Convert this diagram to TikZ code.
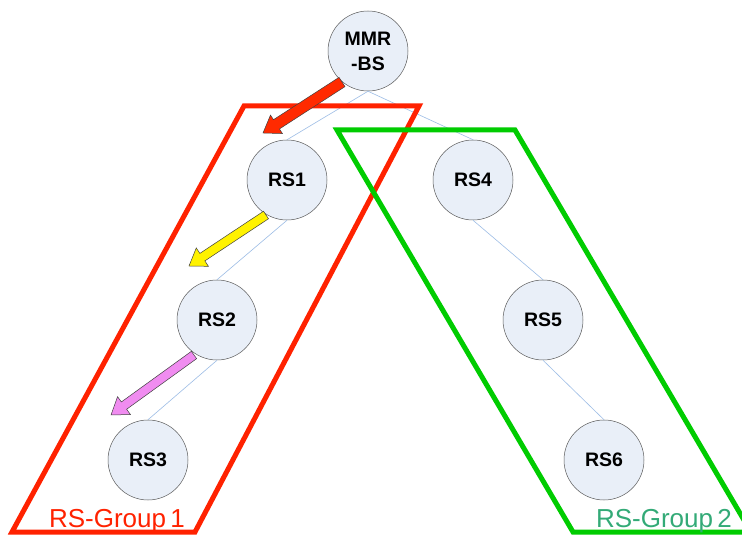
\documentclass[tikz,border=0pt]{standalone}
\usepackage{fontspec}
\setmainfont{Liberation Sans}
\usetikzlibrary{calc}
\definecolor{nodefill}{HTML}{E9EFF8}
\definecolor{linkblue}{HTML}{9DBDE6}
\definecolor{grpred}{HTML}{FF2200}
\definecolor{grpgreen}{HTML}{00CC00}
\definecolor{lblgreen}{HTML}{33AA77}
\definecolor{arrred}{HTML}{FF2A00}
\definecolor{arryellow}{HTML}{FFF200}
\definecolor{arrpink}{HTML}{F08CF0}
\tikzset{
  rsnode/.style={circle, minimum size=80pt, inner sep=0pt, fill=nodefill, draw=black!65, line width=0.5pt, font=\bfseries\fontsize{19.5}{25}\selectfont, align=center},
  link/.style={draw=linkblue, line width=0.6pt},
  grpline/.style={line width=5pt, line join=miter},
  grplabel/.style={font=\fontsize{26}{28}\selectfont, inner sep=0pt, anchor=base}
}
\newcommand{\blockarrow}[4]{%
  \path let \p1=(#2), \p2=(#3), \n1={atan2(\y2-\y1,\x2-\x1)}, \n2={veclen(\x2-\x1,\y2-\y1)} in
    \pgfextra{\xdef\baAng{\n1}\xdef\baLen{\n2}};
  \begin{scope}[shift={(#2)}, rotate=\baAng]
    \draw[fill=#1, draw=black!75, line width=0.5pt, line join=miter]
      (0,-#4) -- (\baLen-16,-#4) -- (\baLen-16,-11) -- (\baLen,0) --
      (\baLen-16,11) -- (\baLen-16,#4) -- (0,#4) -- cycle;
  \end{scope}}
\begin{document}
\begin{tikzpicture}[x=1pt,y=1pt]
\useasboundingbox (0,0) rectangle (742,536);
\fill[white] (0,0) rectangle (742,536);
\clip (0,0) rectangle (742,536);

% nodes
\node[rsnode] (bs) at (368,485) {MMR\\-BS};
\node[rsnode] (rs1) at (287,356) {RS1};
\node[rsnode] (rs4) at (473,356) {RS4};
\node[rsnode] (rs2) at (217,216) {RS2};
\node[rsnode] (rs5) at (543,216) {RS5};
\node[rsnode] (rs3) at (148,76) {RS3};
\node[rsnode] (rs6) at (604,76) {RS6};

% links
\draw[link] (bs.south) -- (rs1.north);
\draw[link] (bs.south) -- (rs4.north);
\draw[link] (rs1.south) -- (rs2.north);
\draw[link] (rs2.south) -- (rs3.north);
\draw[link] (rs4.south) -- (rs5.north);
\draw[link] (rs5.south) -- (rs6.north);

% groups
\draw[grpline, draw=grpred] (244,430) -- (419,430) -- (195,4) -- (12,4) -- cycle;
\draw[grpline, draw=grpgreen] (337,406) -- (515,406) -- (751,4) -- (573,4) -- cycle;

\node[grplabel, text=grpred] (g1) at (117,9) {RS-Group\,1};
\node[grplabel, text=lblgreen] (g2) at (664,9) {RS-Group\,2};

% arrows
\coordinate (a1s) at (342,454);
\coordinate (a1e) at (263,403);
\coordinate (a2s) at (266,321);
\coordinate (a2e) at (189,270);
\coordinate (a3s) at (194,181);
\coordinate (a3e) at (111,121);
\blockarrow{arrred}{a1s}{a1e}{5.5}
\blockarrow{arryellow}{a2s}{a2e}{4.5}
\blockarrow{arrpink}{a3s}{a3e}{4.5}
\end{tikzpicture}
\end{document}
